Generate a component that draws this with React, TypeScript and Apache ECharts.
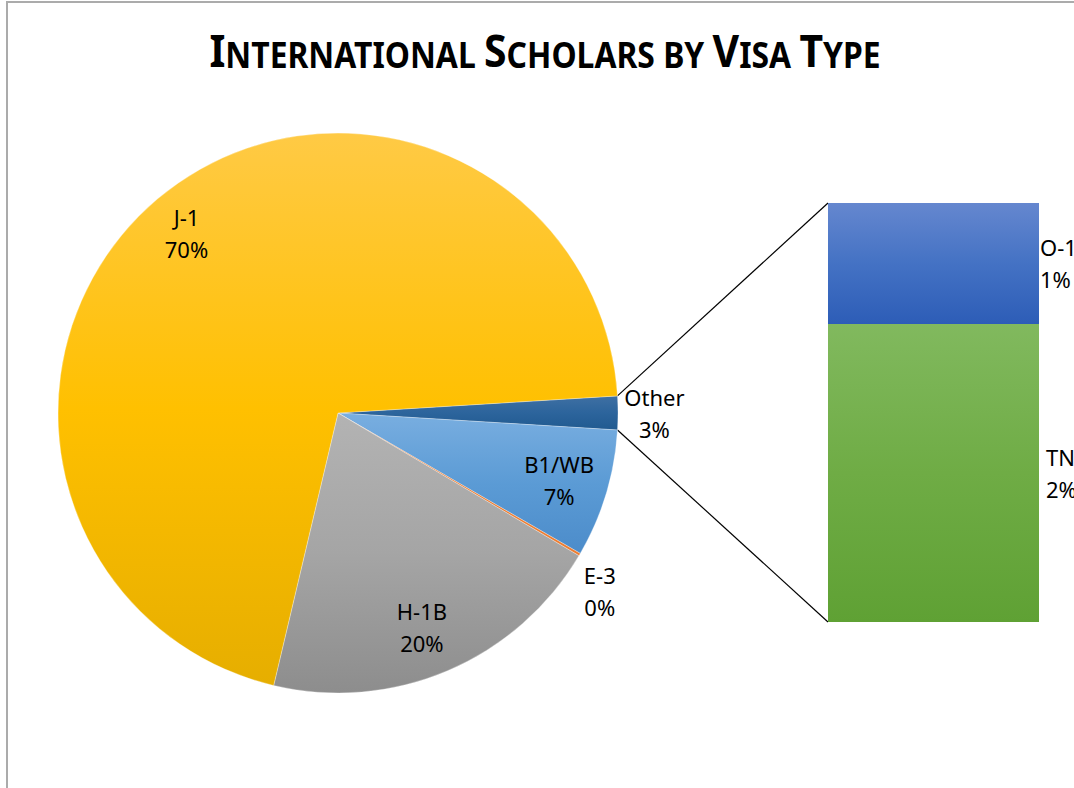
import React, { useEffect, useRef } from "react";
import * as echarts from "echarts";

// ---- data ----
const titleParts = [
  { big: "I", small: "NTERNATIONAL " },
  { big: "S", small: "CHOLARS BY " },
  { big: "V", small: "ISA " },
  { big: "T", small: "YPE" },
];

const pieNames = ["Other", "B1/WB", "E-3", "H-1B", "J-1"];
const pieValues = [1.94, 7.4, 0.15, 20.2, 70.4];
const piePctLabels = ["3%", "7%", "0%", "20%", "70%"];

const barNames = ["TN", "O-1"];
const barValues = [1.38, 0.56];
const barPctLabels = ["2%", "1%"];

// ---- styles / layout ----
const FONT = '"Noto Sans", sans-serif';
const CX = 338;
const CY = 413;
const R = 280;
const START = 3.5;
const BAR = { left: 828, top: 203, width: 211, height: 419 };

const labelPlace: Record<string, { k: number; dA: number }> = {
  Other: { k: 1.13, dA: 0 },
  "B1/WB": { k: 0.825, dA: 0 },
  "E-3": { k: 1.13, dA: -3.8 },
  "H-1B": { k: 0.82, dA: -1.6 },
  "J-1": { k: 0.84, dA: 0 },
};

const vgrad = (c0: string, c1: string, c2: string) =>
  new echarts.graphic.LinearGradient(0, 0, 0, 1, [
    { offset: 0, color: c0 },
    { offset: 0.5, color: c1 },
    { offset: 1, color: c2 },
  ]);

const pieColors: Record<string, any> = {
  Other: vgrad("#3F70A3", "#2C649C", "#205A90"),
  "B1/WB": vgrad("#79AEE0", "#5B9BD5", "#4C8CCA"),
  "E-3": "#ED7D31",
  "H-1B": vgrad("#B3B3B3", "#A5A5A5", "#8D8D8D"),
  "J-1": vgrad("#FFCA45", "#FFC000", "#E6AE00"),
};
const barColors: Record<string, any> = {
  TN: vgrad("#81B95E", "#6FAC45", "#5FA134"),
  "O-1": vgrad("#6587CF", "#4472C4", "#2D5DB7"),
};

export default function App() {
  const ref = useRef<HTMLDivElement>(null);

  useEffect(() => {
    if (!ref.current) return;
    const chart = echarts.init(ref.current, undefined, { renderer: "svg" });

    const total = pieValues.reduce((a, b) => a + b, 0);
    const midAngles: number[] = [];
    let cum = 0;
    pieValues.forEach((v) => {
      midAngles.push(START - ((cum + v / 2) / total) * 360);
      cum += v;
    });
    const aTop = (START * Math.PI) / 180;
    const aBot = ((START - (pieValues[0] / total) * 360) * Math.PI) / 180;
    const barTotal = barValues.reduce((a, b) => a + b, 0);

    const titleText = titleParts.map((p) => `{b|${p.big}}{s|${p.small}}`).join("");

    const labelStyle = {
      color: "#000",
      fontFamily: FONT,
      fontSize: 22,
      lineHeight: 32,
    };

    chart.setOption({
      animation: false,
      backgroundColor: "#fff",
      grid: {
        left: BAR.left,
        top: BAR.top,
        width: BAR.width,
        height: BAR.height,
        containLabel: false,
      },
      xAxis: { type: "category", data: ["Other"], show: false },
      yAxis: { type: "value", min: 0, max: barTotal, show: false },
      series: [
        {
          type: "pie",
          center: [CX, CY],
          radius: R,
          startAngle: START,
          clockwise: true,
          avoidLabelOverlap: false,
          itemStyle: { borderColor: "rgba(255,255,255,0.6)", borderWidth: 0.5 },
          label: {
            show: true,
            position: "outside",
            alignTo: "none",
            ...labelStyle,
            formatter: (p: any) => `${pieNames[p.dataIndex]}\n${piePctLabels[p.dataIndex]}`,
          },
          labelLine: { show: false },
          labelLayout: (p: any) => {
            const i = p.dataIndex;
            const pl = labelPlace[pieNames[i]];
            const a = ((midAngles[i] + pl.dA) * Math.PI) / 180;
            return {
              x: CX + pl.k * R * Math.cos(a),
              y: CY - pl.k * R * Math.sin(a),
              align: "center",
              verticalAlign: "middle",
            };
          },
          emphasis: { disabled: true },
          data: pieNames.map((n, i) => ({
            name: n,
            value: pieValues[i],
            itemStyle: { color: pieColors[n] },
          })),
        },
        ...barNames.map((n, i) => ({
          type: "bar",
          name: n,
          stack: "other",
          barWidth: "100%",
          barCategoryGap: 0,
          itemStyle: { color: barColors[n] },
          label: {
            show: true,
            position: "right",
            distance: n === "TN" ? 7 : 1,
            ...labelStyle,
            formatter: () => `${barNames[i]}\n${barPctLabels[i]}`,
          },
          emphasis: { disabled: true },
          data: [barValues[i]],
        })),
      ],
      graphic: [
        {
          type: "rect",
          shape: { x: 7, y: 2, width: 3000, height: 3000 },
          style: { fill: "none", stroke: "#ABABAB", lineWidth: 2 },
          silent: true,
        },
        {
          type: "line",
          shape: {
            x1: CX + R * Math.cos(aTop),
            y1: CY - R * Math.sin(aTop),
            x2: BAR.left,
            y2: BAR.top,
          },
          style: { stroke: "#000", lineWidth: 1.2 },
          silent: true,
        },
        {
          type: "line",
          shape: {
            x1: CX + R * Math.cos(aBot),
            y1: CY - R * Math.sin(aBot),
            x2: BAR.left,
            y2: BAR.top + BAR.height,
          },
          style: { stroke: "#000", lineWidth: 1.2 },
          silent: true,
        },
        {
          type: "text",
          x: 545,
          y: 72,
          scaleX: 0.91,
          silent: true,
          style: {
            text: titleText,
            align: "center",
            verticalAlign: "bottom",
            fill: "#000",
            rich: {
              b: {
                fontSize: 45,
                fontWeight: "bold",
                fontFamily: FONT,
                color: "#000",
                verticalAlign: "bottom",
                lineHeight: 35,
              },
              s: {
                fontSize: 35,
                fontWeight: "bold",
                fontFamily: FONT,
                color: "#000",
                verticalAlign: "bottom",
                lineHeight: 27.2,
              },
            },
          },
        },
      ],
    });

    return () => chart.dispose();
  }, []);

  return (
    <div
      ref={ref}
      style={{ position: "absolute", left: 0, top: 0, width: 1074, height: 788 }}
    />
  );
}
